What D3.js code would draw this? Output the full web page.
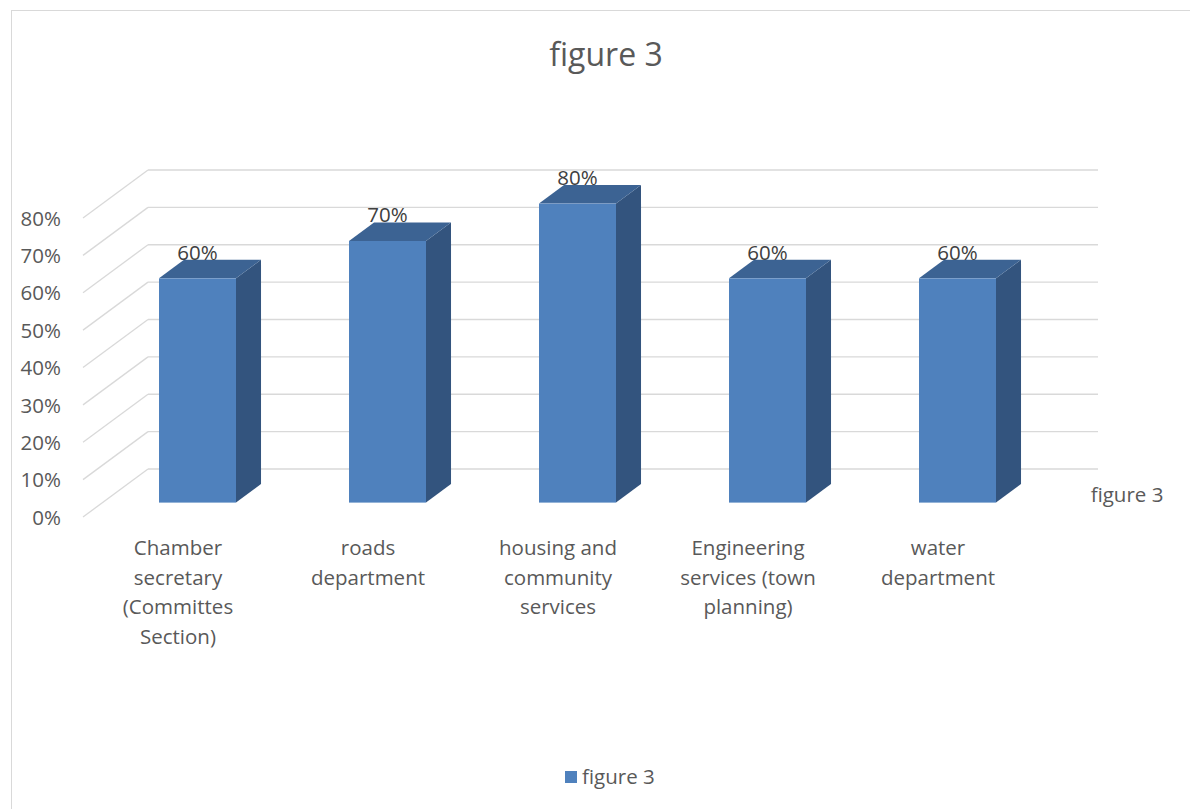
<!DOCTYPE html>
<html><head><meta charset="utf-8">
<script src="https://cdn.jsdelivr.net/npm/d3@7"></script>
<style>body{margin:0;background:#fff}svg{display:block}text{font-family:"Open Sans",sans-serif}</style>
</head><body><svg id="c" width="1190" height="809"></svg>
<script>
const categories = [["Chamber","secretary","(Committes","Section)"],["roads","department"],["housing and","community","services"],["Engineering","services (town","planning)"],["water","department"]];
const values = [0.6, 0.7, 0.8, 0.6, 0.6];
const ticks = [0,0.1,0.2,0.3,0.4,0.5,0.6,0.7,0.8];
const seriesName = "figure 3";
const title = "figure 3";

const FS = 20.5;
const svg = d3.select("#c");
svg.append("rect").attr("x",11.5).attr("y",10.5).attr("width",1200).attr("height",820).attr("fill","#fff").attr("stroke","#d9d9d9");

const DX = 65, DY = -48;
const x = d3.scaleBand().domain(d3.range(categories.length)).range([83, 1033]).paddingInner(0).paddingOuter(0);
const y = d3.scaleLinear().domain([0,0.8]).range([517, 218]);

// gridlines (back wall + left wall)
const g = svg.append("g");
ticks.forEach(t => {
  g.append("line").attr("x1",83).attr("y1",y(t)).attr("x2",83+DX).attr("y2",y(t)+DY).attr("stroke","#d9d9d9").attr("stroke-width",1.3);
  g.append("line").attr("x1",83+DX).attr("y1",y(t)+DY).attr("x2",1033+DX).attr("y2",y(t)+DY).attr("stroke","#d9d9d9").attr("stroke-width",1.3);
});

// y axis labels
const yAxis = d3.axisLeft(y).tickValues(ticks).tickFormat(d3.format(".0%")).tickSize(0).tickPadding(0);
const ya = svg.append("g").attr("transform","translate(61,0)").call(yAxis);
ya.select(".domain").remove();
ya.selectAll("text").attr("font-size",FS).attr("fill","#595959").attr("font-family","'Open Sans',sans-serif").attr("dy","0.35em");

// bars
const d0 = 0.3, dd = 0.385;
const bw = 77;
const bars = svg.append("g");
values.forEach((v,i) => {
  const cx = x(i) + x.bandwidth()/2 + d0*DX;
  const x0 = cx - bw/2, x1 = cx + bw/2;
  const yb = y(0) + d0*DY, yt = y(v) + d0*DY;
  const ox = dd*DX, oy = dd*DY;
  bars.append("path").attr("d",`M${x1},${yb}L${x1+ox},${yb+oy}L${x1+ox},${yt+oy}L${x1},${yt}Z`).attr("fill","#33547e");
  bars.append("path").attr("d",`M${x0},${yt}L${x0+ox},${yt+oy}L${x1+ox},${yt+oy}L${x1},${yt}Z`).attr("fill","#3c6393");
  bars.append("rect").attr("x",x0).attr("y",yt).attr("width",bw).attr("height",yb-yt).attr("fill","#4f81bd");
  bars.append("text").attr("x",cx).attr("y",yt+oy).attr("text-anchor","middle").attr("font-size",FS).attr("fill","#404040").text(d3.format(".0%")(v));
});

// category labels
categories.forEach((lines,i) => {
  const t = svg.append("text").attr("text-anchor","middle").attr("font-size",FS).attr("fill","#595959");
  lines.forEach((l,j) => t.append("tspan").attr("x", x(i)+x.bandwidth()/2).attr("y", 555 + j*29.5).text(l));
});

// depth axis label
svg.append("text").attr("x",1127).attr("y",502).attr("text-anchor","middle").attr("font-size",FS).attr("fill","#595959").text(seriesName);

// title
svg.append("text").attr("x",606).attr("y",66).attr("text-anchor","middle").attr("font-size",32).attr("fill","#595959").text(title);

// legend
svg.append("rect").attr("x",565).attr("y",771).attr("width",12).attr("height",12).attr("fill","#4f81bd");
svg.append("text").attr("x",582).attr("y",784).attr("font-size",FS).attr("fill","#595959").text(seriesName);
</script></body></html>
